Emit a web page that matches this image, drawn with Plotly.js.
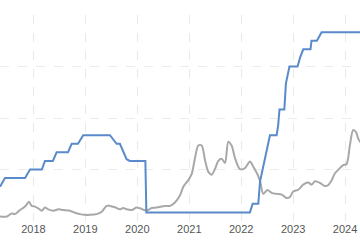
<!DOCTYPE html>
<html>
<head>
<meta charset="utf-8">
<script src="https://cdn.plot.ly/plotly-3.0.1.min.js"></script>
<style>html,body{margin:0;padding:0;background:#fff;}#chart{width:360px;height:240px;}</style>
</head>
<body>
<div id="chart"></div>
<script>
// Blue series (knee points)
const blueDates = ['2017-05-11','2017-06-15','2017-11-03','2017-12-08','2018-03-01','2018-03-23','2018-05-18','2018-06-13','2018-09-01','2018-09-27','2018-11-10','2018-12-17','2019-06-23','2019-07-16','2019-08-09','2019-09-01','2019-09-24','2019-10-18','2019-11-10','2020-02-27','2020-03-05','2022-03-03','2022-03-22','2022-05-01','2022-05-13','2022-06-17','2022-07-22','2022-09-07','2022-09-18','2022-09-27','2022-10-31','2022-11-11','2022-12-06','2023-02-01','2023-02-18','2023-03-13','2023-05-03','2023-05-10','2023-06-17','2023-07-20','2024-04-20'];
const blueValues = [1.0,1.25,1.25,1.5,1.5,1.75,1.75,2.0,2.0,2.25,2.25,2.5,2.5,2.36,2.25,2.25,2.0,1.8,1.75,1.75,0.25,0.25,0.5,0.5,1.15,1.78,2.5,2.5,2.8,3.25,3.25,4.0,4.5,4.5,4.75,5.0,5.0,5.25,5.25,5.5,5.5];

// Gray series
const grayDates = ['2017-05-11','2017-06-27','2017-08-01','2017-08-24','2017-09-29','2017-11-03','2017-12-01','2017-12-20','2018-01-12','2018-02-04','2018-03-01','2018-03-23','2018-04-15','2018-05-21','2018-06-25','2018-07-30','2018-09-15','2018-10-20','2018-11-24','2018-12-29','2019-02-02','2019-03-21','2019-04-26','2019-05-31','2019-06-23','2019-07-28','2019-09-01','2019-09-24','2019-10-18','2019-11-22','2019-12-27','2020-01-20','2020-02-24','2020-03-18','2020-04-11','2020-05-16','2020-06-21','2020-07-14','2020-08-18','2020-09-22','2020-10-27','2020-11-19','2020-12-25','2021-01-18','2021-02-10','2021-03-05','2021-03-29','2021-04-21','2021-05-15','2021-06-07','2021-07-01','2021-07-24','2021-08-17','2021-09-09','2021-10-02','2021-10-26','2021-11-18','2021-12-23','2022-01-27','2022-03-03','2022-03-27','2022-04-24','2022-05-13','2022-06-05','2022-07-03','2022-08-03','2022-09-07','2022-10-12','2022-11-16','2022-12-09','2023-01-02','2023-02-06','2023-03-13','2023-04-17','2023-05-11','2023-06-03','2023-07-08','2023-08-12','2023-09-05','2023-09-29','2023-10-22','2023-11-26','2023-12-19','2024-01-12','2024-02-04','2024-02-27','2024-03-18','2024-04-03','2024-04-20'];
const grayValues = [0.13,0.13,0.22,0.20,0.32,0.42,0.56,0.44,0.42,0.37,0.30,0.39,0.34,0.30,0.34,0.32,0.30,0.24,0.20,0.18,0.18,0.20,0.27,0.44,0.44,0.40,0.34,0.38,0.34,0.32,0.39,0.37,0.31,0.32,0.38,0.39,0.42,0.44,0.44,0.54,0.74,0.99,1.19,1.37,1.84,2.20,2.20,1.78,1.43,1.35,1.52,1.75,1.81,1.69,2.31,2.19,1.84,1.51,1.54,1.73,1.58,1.37,1.17,0.79,0.90,0.82,0.79,0.77,0.67,0.70,0.86,0.91,1.06,1.12,1.06,1.16,1.11,1.02,1.05,1.19,1.39,1.54,1.63,1.66,2.21,2.65,2.59,2.39,2.28];

const tickYears = ['2018','2019','2020','2021','2022','2023','2024'];

const data = [
  {x: grayDates, y: grayValues, type: 'scatter', mode: 'lines',
   line: {color: '#a8a8a8', width: 2, shape: 'spline', smoothing: 0.8}, hoverinfo: 'skip'},
  {x: blueDates, y: blueValues, type: 'scatter', mode: 'lines',
   line: {color: '#5a8ac9', width: 2}, hoverinfo: 'skip'}
];

const layout = {
  width: 360, height: 240,
  margin: {l: 0, r: 0, t: 15, b: 19, pad: 0},
  paper_bgcolor: '#ffffff', plot_bgcolor: '#ffffff',
  showlegend: false,
  xaxis: {
    type: 'date',
    range: ['2017-05-11', '2024-04-15'],
    tickvals: tickYears.map(y => y + '-01-01'),
    ticktext: tickYears,
    showgrid: true, gridcolor: '#e9e9e9', griddash: 'dash', gridwidth: 1,
    zeroline: false, showline: false, ticks: '',
    tickfont: {family: 'Liberation Sans, Arial, sans-serif', size: 11, color: '#555555'}
  },
  yaxis: {
    range: [0, 6], dtick: 1.5, tick0: 0,
    showgrid: true, gridcolor: '#ececec', griddash: 'dash', gridwidth: 1,
    zeroline: false, showline: false, showticklabels: false, ticks: ''
  }
};

Plotly.newPlot('chart', data, layout, {staticPlot: true, displayModeBar: false});
</script>
</body>
</html>
